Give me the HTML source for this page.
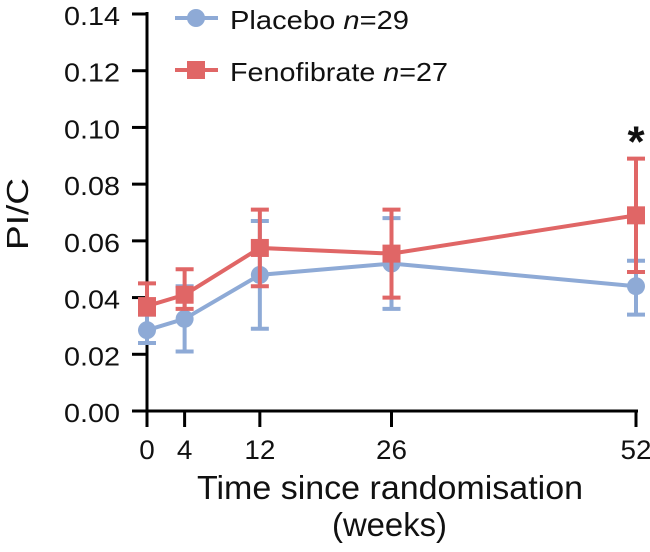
<!DOCTYPE html>
<html><head><meta charset="utf-8"><style>
body{margin:0;background:#fff}
svg text{font-family:"Liberation Sans",Arial,sans-serif;fill:#111}
</style></head><body>
<svg id="c" width="650" height="547" xmlns="http://www.w3.org/2000/svg"></svg>
<script>
const weeks=[0,4,12,26,52];
const yTicks=[0,0.02,0.04,0.06,0.08,0.10,0.12,0.14];
const yTickLabels=["0.00","0.02","0.04","0.06","0.08","0.10","0.12","0.14"];
const placeboMean=[0.0285,0.0325,0.048,0.052,0.044];
const placeboLo=[0.024,0.021,0.029,0.036,0.034];
const placeboHi=[0.034,0.044,0.067,0.068,0.053];
const fenoMean=[0.037,0.041,0.0575,0.0555,0.069];
const fenoLo=[0.034,0.036,0.044,0.040,0.049];
const fenoHi=[0.045,0.050,0.071,0.071,0.089];
const NS="http://www.w3.org/2000/svg";
const svg=document.getElementById('c');
const X=w=>147+w*(489/52);
const Y=v=>411-v*(397/0.14);
function el(t,a,txt){const e=document.createElementNS(NS,t);for(const k in a)e.setAttribute(k,a[k]);if(txt!==undefined)e.textContent=txt;svg.appendChild(e);return e;}
let e;
e=el('line',{x1:147,y1:Y(0.14)-2,x2:147,y2:413,stroke:'#000','stroke-width':3});


e=el('line',{x1:145,y1:411,x2:638,y2:411,stroke:'#000','stroke-width':3});


yTicks.forEach((v,i)=>{
 e=el('line',{x1:132,y1:Y(v),x2:147,y2:Y(v),stroke:'#000','stroke-width':3});
 
 
 e=el('text',{x:64,y:Y(v)+11,'font-size':26,textLength:56,lengthAdjust:'spacingAndGlyphs'},yTickLabels[i]);
 
 
});
weeks.forEach(w=>{
 e=el('line',{x1:X(w),y1:411,x2:X(w),y2:427,stroke:'#000','stroke-width':3});
 
 
 const s=String(w);
 const len=s.length*15.5;
 e=el('text',{x:X(w)-len/2,y:459,'font-size':27,textLength:len,lengthAdjust:'spacingAndGlyphs'},s);
 
 
});
e=el('text',{x:197,y:499,'font-size':33,textLength:386,lengthAdjust:'spacingAndGlyphs'},'Time since randomisation');


e=el('text',{x:332,y:536,'font-size':33,textLength:115,lengthAdjust:'spacingAndGlyphs'},'(weeks)');


e=el('text',{x:0,y:0,'font-size':31,textLength:72,lengthAdjust:'spacingAndGlyphs',transform:'translate(28,250) rotate(-90)'},'PI/C');


function series(mean,lo,hi,col,shape,name){
 const g=document.createElementNS(NS,'g');svg.appendChild(g);
 
 
 const p=document.createElementNS(NS,'polyline');
 p.setAttribute('points',weeks.map((w,i)=>X(w)+','+Y(mean[i])).join(' '));
 p.setAttribute('fill','none');p.setAttribute('stroke',col);p.setAttribute('stroke-width',4);
 
 
 g.appendChild(p);
 weeks.forEach((w,i)=>{
  const x=X(w);
  const eb=document.createElementNS(NS,'path');
  eb.setAttribute('d',`M${x},${Y(lo[i])}V${Y(hi[i])}M${x-9},${Y(lo[i])}H${x+9}M${x-9},${Y(hi[i])}H${x+9}`);
  eb.setAttribute('stroke',col);eb.setAttribute('stroke-width',4);eb.setAttribute('fill','none');
  
  
  g.appendChild(eb);
  let m;
  if(shape==='c'){m=document.createElementNS(NS,'circle');m.setAttribute('cx',x);m.setAttribute('cy',Y(mean[i]));m.setAttribute('r',9);}
  else{m=document.createElementNS(NS,'rect');m.setAttribute('x',x-9);m.setAttribute('y',Y(mean[i])-9);m.setAttribute('width',18);m.setAttribute('height',18);}
  m.setAttribute('fill',col);
  
  
  g.appendChild(m);
 });
}
series(placeboMean,placeboLo,placeboHi,'#8eaad6','c','placebo');
series(fenoMean,fenoLo,fenoHi,'#e06666','s','fenofibrate');
e=el('text',{x:X(52),y:Y(0.089)-2,'font-size':44,'font-weight':'bold','text-anchor':'middle'},'*');


// legend
e=el('line',{x1:175,y1:18,x2:218,y2:18,stroke:'#8eaad6','stroke-width':4});


e=el('circle',{cx:196,cy:18,r:9,fill:'#8eaad6'});


const t1=el('text',{x:230,y:29,'font-size':26,textLength:179,lengthAdjust:'spacingAndGlyphs'});
t1.innerHTML='Placebo <tspan font-style="italic">n</tspan>=29';


e=el('line',{x1:175,y1:70,x2:218,y2:70,stroke:'#e06666','stroke-width':4});


e=el('rect',{x:187,y:61,width:18,height:18,fill:'#e06666'});


const t2=el('text',{x:230,y:81,'font-size':26,textLength:218,lengthAdjust:'spacingAndGlyphs'});
t2.innerHTML='Fenofibrate <tspan font-style="italic">n</tspan>=27';


</script>
</body></html>
